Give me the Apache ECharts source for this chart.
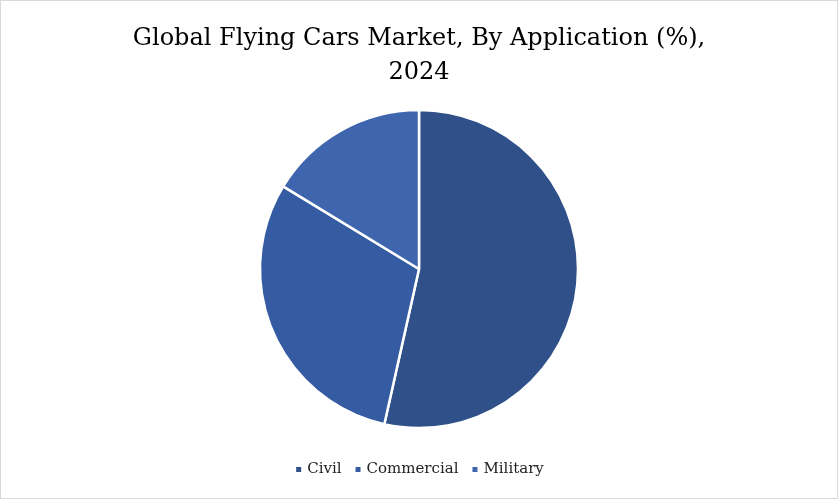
<!DOCTYPE html>
<html>
<head>
<meta charset="utf-8">
<script src="https://cdn.jsdelivr.net/npm/echarts@6/dist/echarts.min.js"></script>
<style>
  html, body { margin: 0; padding: 0; background: #fff; }
  #chart { width: 836px; height: 497px; border: 1px solid #d9d9d9; }
</style>
</head>
<body>
<div id="chart"></div>
<script>
// shares (%)
const categories = ["Civil", "Commercial", "Military"];
const shares = [53.5, 30.2, 16.3];
const colors = ["#2f5089", "#355ca2", "#3e65ae"];

const chart = echarts.init(document.getElementById("chart"));

chart.setOption({
  title: {
    text: "Global Flying Cars Market, By Application (%),\n2024",
    left: "center",
    top: 16,
    textStyle: {
      fontFamily: "DejaVu Serif",
      fontWeight: "normal",
      fontSize: 24,
      lineHeight: 34,
      color: "#000"
    }
  },
  legend: {
    bottom: 16,
    left: "center",
    itemWidth: 7,
    itemHeight: 7,
    itemGap: 12,
    icon: "rect",
    textStyle: { fontFamily: "DejaVu Serif", fontSize: 15, color: "#222" },
    data: categories
  },
  color: colors,
  series: [{
    type: "pie",
    center: [418, 268],
    radius: 159,
    startAngle: 90,
    clockwise: true,
    label: { show: false },
    labelLine: { show: false },
    itemStyle: { borderColor: "#fff", borderWidth: 2.5 },
    data: categories.map((c, i) => ({ name: c, value: shares[i] }))
  }]
});
</script>
</body>
</html>
